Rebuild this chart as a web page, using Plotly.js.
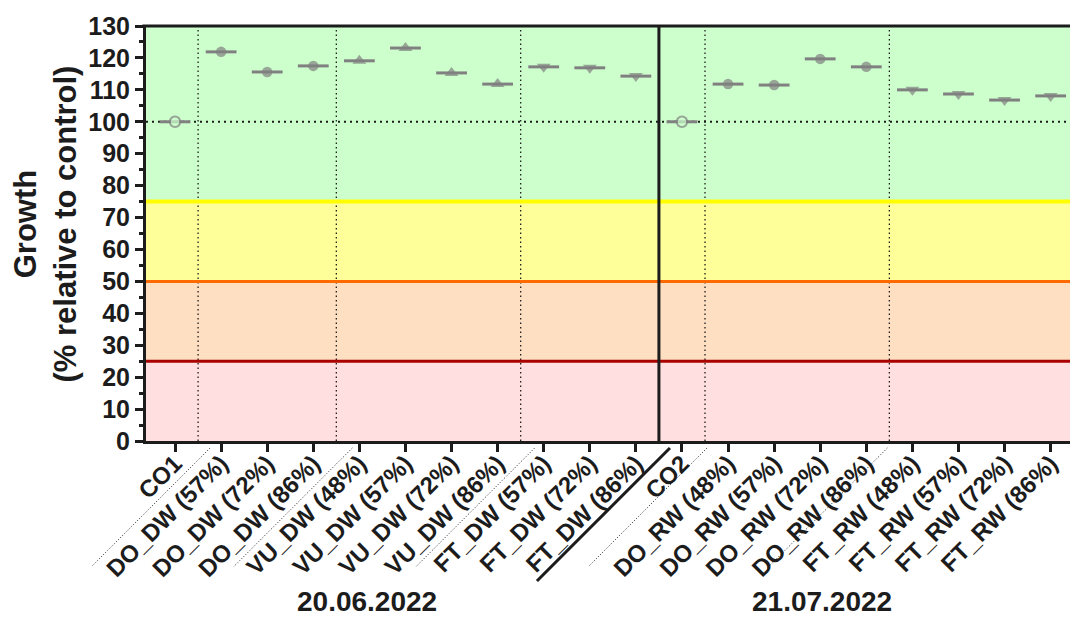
<!DOCTYPE html>
<html>
<head>
<meta charset="utf-8">
<script src="https://cdn.plot.ly/plotly-3.0.1.min.js"></script>
<style>
html,body{margin:0;padding:0;background:#fff;}
#chart{width:1070px;height:617px;}
</style>
</head>
<body>
<div id="chart"></div>
<script>
// ---- data ----
const categories = ['CO1','DO_DW (57%)','DO_DW (72%)','DO_DW (86%)','VU_DW (48%)','VU_DW (57%)','VU_DW (72%)','VU_DW (86%)','FT_DW (57%)','FT_DW (72%)','FT_DW (86%)','CO2','DO_RW (48%)','DO_RW (57%)','DO_RW (72%)','DO_RW (86%)','FT_RW (48%)','FT_RW (57%)','FT_RW (72%)','FT_RW (86%)'];
const growth = [100,121.9,115.6,117.5,119.1,123.1,115.3,111.8,117.2,116.9,114.3,100,111.8,111.5,119.7,117.2,110.0,108.7,106.8,108.1];
const groupLabels = ['20.06.2022','21.07.2022'];
const yTickVals = [0,10,20,30,40,50,60,70,80,90,100,110,120,130];
const bandLimits = [0,25,50,75,130];
const yTitle = 'Growth<br>(% relative to control)';

// ---- styling ----
const GRAY = '#808080';
const INK = '#1c1c1c';
const FONT = 'Liberation Sans, Arial, Helvetica, sans-serif';
const bandFill = ['#ffdfdf','#ffdfc1','#ffff99','#ccffcc'];
const bandLine = ['#aa0000','#ff6a00','#ffff00'];

const xIdx = categories.map((c, i) => i);
const prefix = categories.map(c => c.slice(0, 2));
const symbolFor = {CO: 'circle', DO: 'circle', VU: 'triangle-up', FT: 'triangle-down'};
const symbols = prefix.map(p => symbolFor[p]);
const fills = prefix.map(p => p === 'CO' ? '#ccffcc' : GRAY);
const sizes = prefix.map(p => (p === 'VU' || p === 'FT') ? 12 : 10.5);

const xRange = [-0.63, 19.42];

const traces = [
  { // mean bars
    x: xIdx, y: growth, type: 'scatter', mode: 'markers', hoverinfo: 'skip',
    marker: {symbol: 'line-ew', size: 22, line: {color: GRAY, width: 3}},
    cliponaxis: false, showlegend: false
  },
  { // group symbols
    x: xIdx, y: growth, type: 'scatter', mode: 'markers',
    marker: {symbol: symbols, size: sizes, color: fills, line: {color: GRAY, width: prefix.map(p => p === 'CO' ? 2 : 0)}},
    text: categories, hovertemplate: '%{text}: %{y}<extra></extra>',
    cliponaxis: false, showlegend: false
  }
];

const shapes = [];
// background bands
for (let i = 0; i < bandFill.length; i++) {
  shapes.push({type: 'rect', layer: 'below', xref: 'paper', yref: 'y', x0: 0, x1: 1,
    y0: bandLimits[i], y1: bandLimits[i + 1], fillcolor: bandFill[i], line: {width: 0}});
}
// 100% reference line
shapes.push({type: 'line', layer: 'below', xref: 'paper', yref: 'y', x0: 0, x1: 1, y0: 100, y1: 100,
  line: {color: INK, width: 2, dash: '2px,4px'}});
// group separators (dotted)
const dottedSeps = [0.5, 3.5, 7.5, 11.5, 15.5];
dottedSeps.forEach(s => shapes.push({type: 'line', layer: 'below', xref: 'x', yref: 'paper', x0: s, x1: s, y0: 0, y1: 1,
  line: {color: INK, width: 1.3, dash: '1.5px,3px'}}));
// band threshold lines
for (let i = 0; i < bandLine.length; i++) {
  shapes.push({type: 'line', layer: 'below', xref: 'paper', yref: 'y', x0: 0, x1: 1,
    y0: bandLimits[i + 1], y1: bandLimits[i + 1], line: {color: bandLine[i], width: i === 2 ? 4 : 3}});
}
// date divider
const dateSep = 10.5;
shapes.push({type: 'line', layer: 'above', xref: 'x', yref: 'paper', x0: dateSep, x1: dateSep, y0: 0, y1: 1,
  line: {color: INK, width: 3}});
// top frame
shapes.push({type: 'line', layer: 'above', xref: 'paper', yref: 'paper', x0: -0.004, x1: 1, y0: 1, y1: 1,
  line: {color: INK, width: 3}});
// diagonal label separators below the axis
const toPaper = v => (v - xRange[0]) / (xRange[1] - xRange[0]);
const diag = [
  {s: 0.5, off: 12, len: 118, w: 1, dash: '1px,2px'},
  {s: 3.5, off: 16, len: 119, w: 1, dash: '1px,2px'},
  {s: 7.5, off: 14, len: 119, w: 1, dash: '1px,2px'},
  {s: 10.5, off: 11, len: 133, w: 3, dash: 'solid'},
  {s: 11.5, off: 2, len: 118, w: 1, dash: '1px,2px'},
  {s: 15.5, off: -2, len: 120, w: 1, dash: '1px,2px'}
];
diag.forEach(d => shapes.push({type: 'line', layer: 'above', xref: 'paper', yref: 'paper',
  xsizemode: 'pixel', xanchor: toPaper(d.s), x0: d.off, x1: d.off - d.len,
  ysizemode: 'pixel', yanchor: 0, y0: -7, y1: -7 - d.len,
  line: {color: INK, width: d.w, dash: d.dash}}));

const groupCenters = [4.17, 14.04];
const annotations = groupLabels.map((g, i) => ({
  text: g, xref: 'x', yref: 'paper', x: groupCenters[i], y: 0, yshift: -177,
  xanchor: 'center', yanchor: 'bottom', showarrow: false, borderpad: 0,
  font: {family: FONT, size: 28, weight: 'bold', color: INK}
}));
annotations.push({
  text: yTitle, xref: 'paper', yref: 'paper', x: 0, y: 0.5, xshift: -101, yshift: 9,
  xanchor: 'center', yanchor: 'middle', textangle: -90, showarrow: false, borderpad: 0,
  font: {family: FONT, size: 31, weight: 'bold', color: INK}
});

const layout = {
  width: 1070, height: 617,
  margin: {l: 146, r: 0, t: 26, b: 176},
  paper_bgcolor: '#ffffff', plot_bgcolor: '#ffffff',
  showlegend: false,
  font: {family: FONT, color: INK},
  xaxis: {
    type: 'linear', range: xRange, tickvals: xIdx, ticktext: categories, tickangle: -45,
    showgrid: false, zeroline: false, showline: true, linecolor: INK, linewidth: 3,
    ticks: 'outside', ticklen: 8, tickwidth: 2.5, tickcolor: INK,
    ticklabelstandoff: -12,
    tickfont: {family: FONT, size: 24, weight: 'bold', color: INK}
  },
  yaxis: {
    range: [0, 130], tickvals: yTickVals, showgrid: false, zeroline: false,
    showline: true, linecolor: INK, linewidth: 3,
    ticks: 'outside', ticklen: 8, tickwidth: 2.5, tickcolor: INK,
    minor: {dtick: 5, ticks: 'outside', ticklen: 4, tickwidth: 2.5, tickcolor: INK, showgrid: false},
    tickfont: {family: FONT, size: 25, weight: 'bold', color: INK}
  },
  shapes: shapes,
  annotations: annotations
};

Plotly.newPlot('chart', traces, layout, {displayModeBar: false});
</script>
</body>
</html>
